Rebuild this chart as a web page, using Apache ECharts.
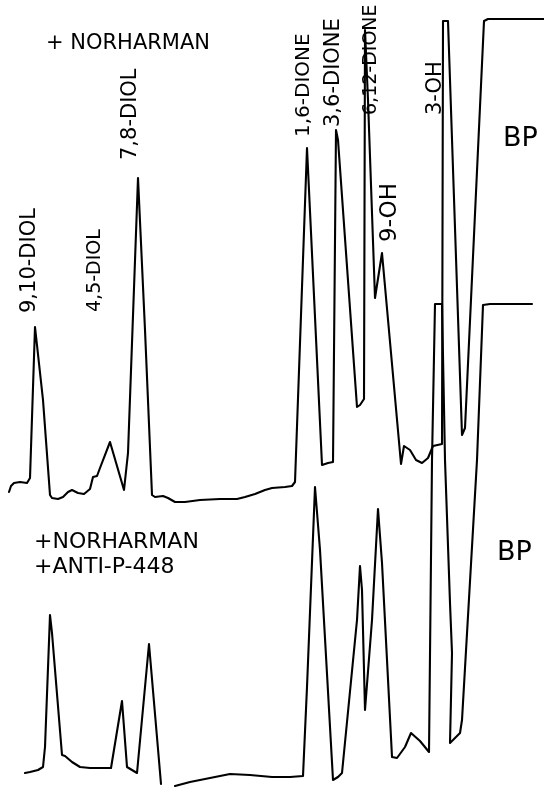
<!DOCTYPE html>
<html>
<head>
<meta charset="utf-8">
<script src="https://cdn.jsdelivr.net/npm/echarts@6/dist/echarts.min.js"></script>
<style>
  html, body { margin: 0; padding: 0; background: #fff; }
  #chart { width: 544px; height: 787px; }
</style>
</head>
<body>
<div id="chart"></div>
<script>
// Elution position (chart divisions) and detector deflection above each trace's own baseline.
// Trace with norharman only
const norharmanTrace = [
  [9,5],[11,11],[14,14],[20,15],[27,14],[30,19],[35,170],[43,97],[50,2],[52,-1],[58,-2],[63,0],
  [68,5],[72,7],[78,4],[84,3],[90,8],[93,20],[97,21],[100,29],[110,55],[124,7],[128,44],[138,319],
  [145,167],[152,2],[155,0],[163,1],[168,-1],[175,-5],[185,-5],[200,-3],[220,-2],[237,-2],[245,0],
  [255,3],[265,7],[272,9],[285,10],[292,11],[295,15],[307,349],[322,32],[328,34],[333,35],[336,367],
  [338,357],[357,90],[360,92],[364,98],[365,467],[368,397],[375,199],[382,244],[401,33],[404,51],
  [410,47],[416,37],[422,34],[428,39],[433,51],[442,53],[443,476],[448,476],[462,62],[465,69],
  [484,476],[488,478],[544,478]
];
// Trace with norharman plus anti-P-448 antibody
const antibodyTrace = [
  [25,4],[30,5],[38,7],[43,10],[45,30],[50,162],[52,144],[62,22],[65,21],[72,15],[80,10],[90,9],
  [111,9],[122,76],[127,10],[137,4],[149,133],[161,-7],[168,'-'],[175,-9],[190,-5],[210,-1],[230,3],
  [250,2],[272,0],[290,0],[303,1],[307,90],[315,290],[320,227],[333,-3],[338,0],[342,4],[357,157],
  [360,211],[362,187],[365,67],[372,157],[378,268],[382,214],[392,20],[397,19],[405,30],[411,44],
  [420,36],[429,25],[432,317],[435,473],[442,473],[445,317],[450,174],[452,124],[450,34],[460,44],
  [462,57],[477,317],[483,472],[490,473],[532,473]
];
const peakNames = ['9,10-DIOL','4,5-DIOL','7,8-DIOL','1,6-DIONE','3,6-DIONE','6,12-DIONE','9-OH','3-OH'];
const upperTitle = '+ NORHARMAN';
const lowerTitle = ['+NORHARMAN', '+ANTI-P-448'];
const parentLabel = 'BP';

const FONT = '"DejaVu Sans"';
const INK = '#000';

// rotated peak labels: [x center, bottom y, font size]
const peakLabelLayout = [
  [30, 313, 21], [95, 312, 19], [131, 160, 21], [304, 137, 20],
  [334, 127, 21], [371, 115, 19], [390, 242, 23], [436, 115, 21]
];

const graphics = peakNames.map((name, i) => {
  const [x, y, size] = peakLabelLayout[i];
  return {
    type: 'text', x: x, y: y, rotation: Math.PI / 2,
    style: { text: name, font: size + 'px ' + FONT, fill: INK,
             align: 'left', verticalAlign: 'middle', textAlign: 'left', textVerticalAlign: 'middle' }
  };
});
function hText(text, x, y, size) {
  return {
    type: 'text', x: x, y: y,
    style: { text: text, font: size + 'px ' + FONT, fill: INK,
             align: 'left', verticalAlign: 'bottom', textAlign: 'left', textVerticalAlign: 'bottom' }
  };
}
graphics.push(hText(upperTitle, 46, 54, 21));
graphics.push(hText(lowerTitle[0], 34, 553, 22));
graphics.push(hText(lowerTitle[1], 34, 578, 22));
graphics.push(hText(parentLabel, 503, 152, 27));
graphics.push(hText(parentLabel, 497, 566, 27));

const traceStyle = { color: INK, width: 2.1, cap: 'round', join: 'round' };

const chart = echarts.init(document.getElementById('chart'), null, { renderer: 'canvas' });
chart.setOption({
  animation: false,
  backgroundColor: '#fff',
  grid: { left: 0, right: 0, top: 0, bottom: 0 },
  xAxis: { type: 'value', min: 0, max: 544, show: false },
  yAxis: [
    { type: 'value', min: -290, max: 497, show: false },
    { type: 'value', min: -10, max: 777, show: false }
  ],
  series: [
    { type: 'line', yAxisIndex: 0, data: norharmanTrace, showSymbol: false, symbol: 'none',
      lineStyle: traceStyle, connectNulls: false },
    { type: 'line', yAxisIndex: 1, data: antibodyTrace, showSymbol: false, symbol: 'none',
      lineStyle: traceStyle, connectNulls: false }
  ],
  graphic: graphics
});
</script>
</body>
</html>
